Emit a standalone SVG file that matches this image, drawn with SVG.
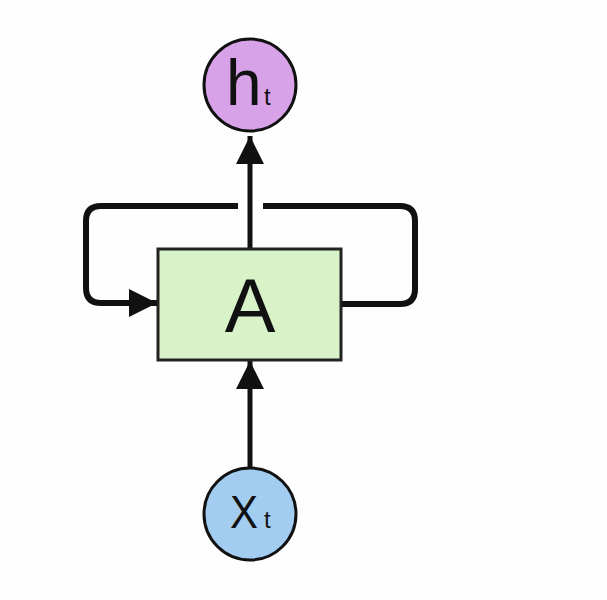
<svg xmlns="http://www.w3.org/2000/svg" width="607" height="600" viewBox="0 0 607 600">
<style>
.ln{fill:none;stroke:#111;stroke-linecap:butt;stroke-linejoin:round}
.lbl{font-family:"Liberation Sans",Arial,sans-serif;fill:#111}
</style>
<defs>
<marker id="ah" viewBox="0 0 10 10" refX="10" refY="5" markerUnits="userSpaceOnUse" markerWidth="28" markerHeight="32" orient="auto">
<path d="M0,0 L10,5 L0,10 Z" fill="#111"/>
</marker>
</defs>
<rect width="607" height="600" fill="#fefefe"/>
<g id="connectors">
<path class="ln" style="stroke-width:6" d="M238,206 H101 Q86,206 86,221 V288 Q86,303 101,303 H157" marker-end="url(#ah)"/>
<path class="ln" style="stroke-width:6" d="M341,304 H400 Q415,304 415,289 V221 Q415,206 400,206 H263"/>
<path class="ln" style="stroke-width:5" d="M250,249 V136" marker-end="url(#ah)"/>
<path class="ln" style="stroke-width:5" d="M250,469 V361" marker-end="url(#ah)"/>
</g>
<g id="A">
<rect x="158" y="249" width="183" height="111" fill="#d9f3c8" stroke="#222" stroke-width="3"/>
<text class="lbl" x="250" y="332" font-size="76" text-anchor="middle">A</text>
</g>
<g id="ht">
<circle cx="250" cy="85" r="46" fill="#d8a2e8" stroke="#111" stroke-width="3"/>
<text class="lbl" x="226" y="105" font-size="64">h</text>
<text class="lbl" x="264" y="105" font-size="24">t</text>
</g>
<g id="xt">
<circle cx="250" cy="514" r="46" fill="#a2cdf0" stroke="#111" stroke-width="3"/>
<text class="lbl" x="230" y="528" font-size="46" textLength="28" lengthAdjust="spacingAndGlyphs">X</text>
<text class="lbl" x="264" y="528" font-size="24">t</text>
</g>
</svg>
